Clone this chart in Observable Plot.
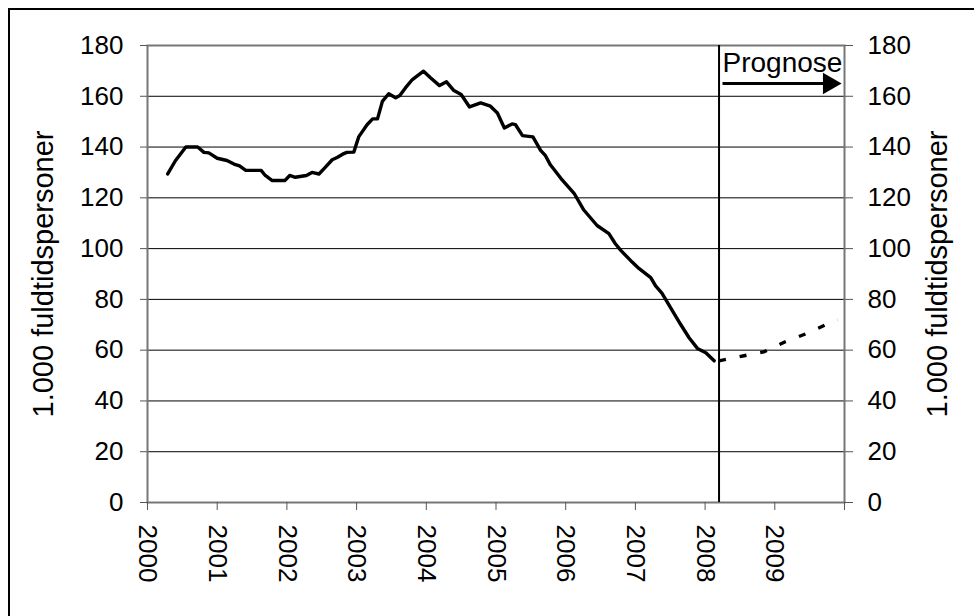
<!DOCTYPE html>
<html>
<head>
<meta charset="utf-8">
<script src="https://cdn.jsdelivr.net/npm/d3@7"></script>
<script src="https://cdn.jsdelivr.net/npm/@observablehq/plot@0.6"></script>
<style>
  html, body { margin: 0; padding: 0; background: #fff; }
  #wrap { position: relative; width: 974px; height: 616px; overflow: hidden; }
  #box { position: absolute; left: 8px; top: 8px; width: 980px; height: 700px;
         border-left: 2px solid #000; border-top: 2px solid #000; pointer-events: none; }
  #chart { position: absolute; left: 0; top: 0; }
</style>
</head>
<body>
<div id="wrap"><div id="chart"></div><div id="box"></div></div>
<script>
// Historical series (decimal year, 1.000 fuldtidspersoner)
const histYears = [2000.29,2000.40,2000.55,2000.72,2000.81,2000.88,2001.00,2001.14,2001.24,2001.32,2001.41,2001.63,2001.69,2001.79,2001.97,2002.04,2002.12,2002.28,2002.36,2002.46,2002.54,2002.65,2002.72,2002.80,2002.86,2002.96,2003.03,2003.15,2003.23,2003.30,2003.37,2003.46,2003.56,2003.62,2003.70,2003.80,2003.96,2004.06,2004.19,2004.29,2004.39,2004.50,2004.62,2004.78,2004.92,2005.02,2005.12,2005.23,2005.28,2005.38,2005.53,2005.64,2005.71,2005.78,2005.93,2006.12,2006.26,2006.45,2006.62,2006.71,2006.79,2006.95,2007.05,2007.22,2007.29,2007.38,2007.50,2007.65,2007.77,2007.89,2008.01,2008.13];
const histValues = [129.4,134.6,140,140,137.9,137.7,135.6,134.7,133.3,132.6,130.8,130.8,128.8,126.8,126.8,128.8,128.1,128.8,130,129.4,131.7,135,135.9,137.2,137.9,138,144,148.8,151.1,151.1,158,161,159.4,160.3,163.3,166.6,169.9,167.3,164.2,165.7,162.4,160.7,155.8,157.4,156.1,153.4,147.5,149.1,148.8,144.5,144,138.7,136.6,133,127.7,121.8,115.2,109.1,105.9,102,99.3,94.8,92.2,88.6,85.3,82.5,77,70.1,64.9,60.7,59,55.8];
// Forecast ("Prognose")
const progYears = [2008.20,2008.56,2008.84,2009.15,2009.46,2009.77,2009.90];
const progValues = [55.8,57.8,59.3,63.3,66.6,70.5,72];

const yTicks = [0,20,40,60,80,100,120,140,160,180];
const gridTicks = [20,40,60,80,100,120,140,160];
const xTicks = [2000,2001,2002,2003,2004,2005,2006,2007,2008,2009,2010];
const xLabels = ["2000","2001","2002","2003","2004","2005","2006","2007","2008","2009",""];
const yLabel = "1.000 fuldtidspersoner";
const prognoseStart = [2008.2];
const prognoseText = ["Prognose"];
const arrowFrom = [2008.25, 165];
const arrowTo = [2009.78, 165];
const prognoseTextPos = [2008.25, 173];

const hist = histYears.map((x, i) => ({x, y: histValues[i]}));
const prog = progYears.map((x, i) => ({x, y: progValues[i]}));

const font = "'Liberation Sans', Arial, sans-serif";
const fs = 26;

const chart = Plot.plot({
  width: 974,
  height: 616,
  marginLeft: 147,
  marginRight: 130,
  marginTop: 45,
  marginBottom: 114,
  style: {fontFamily: font, fontSize: fs + "px", color: "#000", background: "transparent"},
  x: {type: "linear", domain: [2000, 2010]},
  y: {domain: [0, 180]},
  marks: [
    Plot.gridY(gridTicks, {stroke: "#000", strokeOpacity: 1, strokeWidth: 1}),
    Plot.frame({stroke: "#777", strokeWidth: 2}),
    Plot.axisY({anchor: "left", ticks: yTicks, tickSize: 7, tickPadding: 17, fontSize: fs, stroke: "#555", label: null}),
    Plot.axisY({anchor: "right", ticks: yTicks, tickSize: 8, tickPadding: 15, fontSize: fs, stroke: "#555", label: null}),
    Plot.axisX({anchor: "bottom", ticks: xTicks, tickFormat: (d) => xLabels[xTicks.indexOf(d)], tickRotate: 90, tickSize: 8, tickPadding: 14, fontSize: fs, stroke: "#555", label: null}),
    Plot.text([yLabel], {frameAnchor: "left", textAnchor: "middle", rotate: -90, dx: -104, fontSize: 29, fill: "#000"}),
    Plot.text([yLabel], {frameAnchor: "right", textAnchor: "middle", rotate: -90, dx: 93, fontSize: 29, fill: "#000"}),
    Plot.ruleX(prognoseStart, {y1: 0, y2: 180, stroke: "#000", strokeWidth: 2}),
    Plot.line(hist, {x: "x", y: "y", stroke: "#000", strokeWidth: 3.4, strokeLinejoin: "round", strokeLinecap: "round"}),
    Plot.line(prog, {x: "x", y: "y", stroke: "#000", strokeWidth: 3.4, strokeLinecap: "butt", strokeDasharray: "7,14"}),
    Plot.text(prognoseText, {x: prognoseTextPos[0], y: prognoseTextPos[1], textAnchor: "start", fontSize: 28, fill: "#000"}),
    Plot.link([0], {x1: arrowFrom[0], y1: arrowFrom[1], x2: arrowTo[0], y2: arrowTo[1], stroke: "#000", strokeWidth: 3}),
    Plot.dot([0], {x: arrowTo[0], y: arrowTo[1], symbol: "triangle", rotate: 90, r: 8, fill: "#000", stroke: null})
  ]
});
document.getElementById("chart").appendChild(chart);
</script>
</body>
</html>
